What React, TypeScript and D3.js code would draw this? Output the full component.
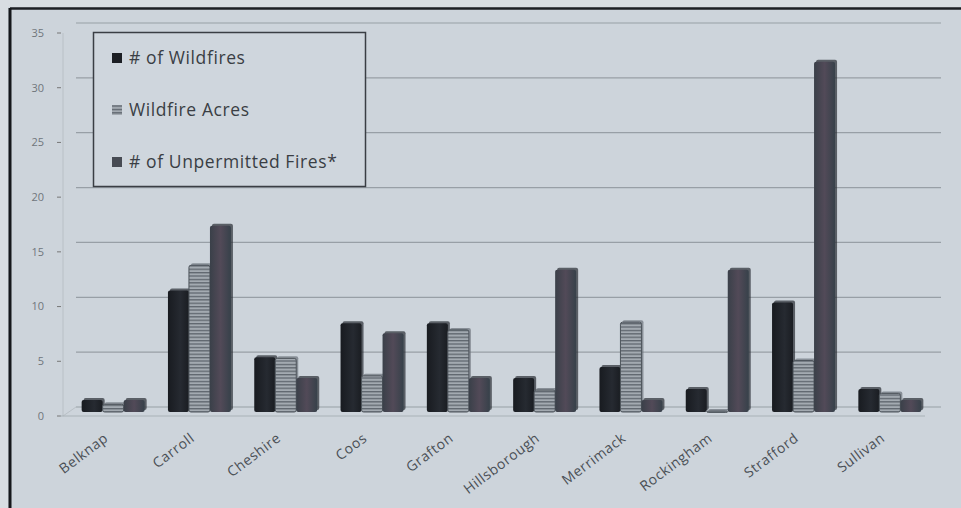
import React from "react";
import * as d3 from "d3";

const categories = ["Belknap", "Carroll", "Cheshire", "Coos", "Grafton", "Hillsborough", "Merrimack", "Rockingham", "Strafford", "Sullivan"];
const wildfires = [1.1, 11.1, 5, 8.1, 8.1, 3.1, 4.1, 2.1, 10, 2.1];
const wildfireAcres = [0.7, 13.4, 4.9, 3.3, 7.5, 2, 8.2, 0.1, 4.7, 1.7];
const unpermitted = [1.1, 17, 3.1, 7.2, 3.1, 13, 1.1, 13, 32, 1.1];
const yTicks = [0, 5, 10, 15, 20, 25, 30, 35];
const seriesNames = ["# of Wildfires", "Wildfire Acres", "# of Unpermitted Fires*"];

const W = 961, H = 508;

export default function App() {
  const x = d3.scaleBand<string>().domain(categories).range([70, 933]).paddingInner(0.27).paddingOuter(0.135);
  const xs = d3.scaleBand<number>().domain([0, 1, 2]).range([0, x.bandwidth()]).padding(0);
  const y = d3.scaleLinear().domain([0, 35]).range([412, 28.8]);
  const yBack = d3.scaleLinear().domain([0, 35]).range([407, 23]);
  const yFront = d3.scaleLinear().domain([0, 35]).range([416, 33]);

  const series = [wildfires, wildfireAcres, unpermitted];
  const fills = ["url(#gDark)", "url(#pAcres)", "url(#gUnp)"];

  return (
    <svg width={W} height={H} style={{ position: "absolute", left: 0, top: 0, display: "block" }}
      fontFamily="'Open Sans', 'DejaVu Sans', sans-serif">
      <defs>
        <linearGradient id="gDark" x1="0" x2="1" y1="0" y2="0">
          <stop offset="0" stopColor="#181b20" />
          <stop offset="0.6" stopColor="#262a31" />
          <stop offset="1" stopColor="#1a1d22" />
        </linearGradient>
        <linearGradient id="gUnp" x1="0" x2="1" y1="0" y2="0">
          <stop offset="0" stopColor="#3a4049" />
          <stop offset="0.5" stopColor="#524a58" />
          <stop offset="1" stopColor="#37414a" />
        </linearGradient>
        <pattern id="pAcres" width="6" height="3.4" patternUnits="userSpaceOnUse">
          <rect width="6" height="3.4" fill="#a3aab1" />
          <rect width="6" height="1.3" fill="#5f666e" />
        </pattern>
      </defs>
      <rect width={W} height={H} fill="#cdd4db" />
      <rect width={8} height={H} fill="#d8dde2" />
      <rect width={W} height={7} fill="#d8dde2" />
      {/* outer border */}
      <line x1={10} x2={W} y1={8.5} y2={8.5} stroke="#1c1f24" strokeWidth={2.5} />
      <line x1={10} x2={10} y1={8} y2={H} stroke="#15171b" strokeWidth={3} />

      {/* back wall gridlines */}
      {yTicks.map(t => (
        <line key={"g" + t} x1={76} x2={941} y1={yBack(t)} y2={yBack(t)} stroke="#8c939a" strokeWidth={1.2} opacity={0.8} />
      ))}
      {/* y axis */}
      <line x1={63} x2={63} y1={yFront(35)} y2={yFront(0)} stroke="#b9c0c6" strokeWidth={1} />
      <line x1={63} x2={76} y1={yFront(0)} y2={yBack(0)} stroke="#b9c0c6" strokeWidth={1} />
      {yTicks.map(t => (
        <g key={"t" + t}>
          <line x1={57} x2={61} y1={yFront(t)} y2={yFront(t)} stroke="#777" strokeWidth={1} />
          <text x={44} y={yFront(t)} dy="0.35em" textAnchor="end" fontSize={11} fill="#70767c">{t}</text>
        </g>
      ))}
      {/* floor front edge */}
      <line x1={60} x2={925} y1={416} y2={416} stroke="#aab1b8" strokeWidth={1.2} />

      {/* bars */}
      {categories.map((c, i) => (
        <g key={c}>
          {series.map((s, k) => {
            const bx = (x(c) as number) + (xs(k) as number);
            const bw = xs.bandwidth();
            const top = y(s[i]);
            const h = Math.max(412 - top, 1.5);
            return (
              <g key={k}>
                <rect x={bx + 2} y={top - 2} width={bw} height={h} rx={2} fill={k === 1 ? "#6b727a" : "#2a2e35"} opacity={0.7} />
                <rect x={bx} y={top} width={bw} height={h} rx={2} fill={fills[k]}
                  stroke={k === 1 ? "#4e555c" : "none"} strokeWidth={k === 1 ? 1 : 0} />
              </g>
            );
          })}
        </g>
      ))}

      {/* x labels */}
      {categories.map(c => {
        const cx = (x(c) as number) + x.bandwidth() / 2 - 4;
        return (
          <text key={"l" + c} transform={`translate(${cx},${440}) rotate(-37)`} textAnchor="end" fontSize={14} letterSpacing={0.6} fill="#4a4f55">{c}</text>
        );
      })}

      {/* legend */}
      <rect x={93.5} y={32.5} width={272} height={154} fill="#cfd6dd" stroke="#3a3e44" strokeWidth={1.5} />
      {seriesNames.map((n, k) => {
        const ly = 58 + k * 52;
        return (
          <g key={n}>
            <rect x={112} y={ly - 5} width={10} height={10} fill={k === 0 ? "#1c1f24" : k === 1 ? "url(#pAcres)" : "#474b53"} />
            <text x={129} y={ly} dy="0.35em" fontSize={17.5} letterSpacing={0.6} fill="#3a3e44">{n}</text>
          </g>
        );
      })}
    </svg>
  );
}
